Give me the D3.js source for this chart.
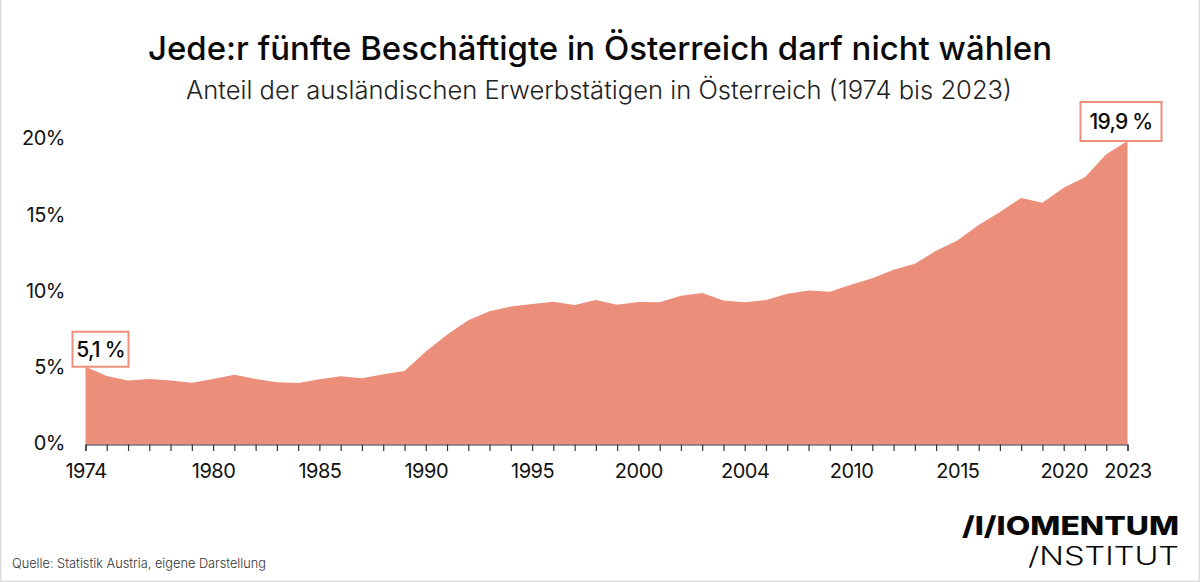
<!DOCTYPE html>
<html>
<head>
<meta charset="utf-8">
<script src="https://cdn.jsdelivr.net/npm/d3@7"></script>
<style>
html, body { margin: 0; padding: 0; background: #fff; }
svg { display: block; font-family: "Inter", "Lato", sans-serif; }
</style>
</head>
<body>
<div id="svg-container"></div>
<script>
var width = 1200;
var height = 582;

var titleText = "Jede:r fünfte Beschäftigte in Österreich darf nicht wählen";
var subtitleText = "Anteil der ausländischen Erwerbstätigen in Österreich (1974 bis 2023)";
var sourceText = "Quelle: Statistik Austria, eigene Darstellung";

var years = [1974, 1975, 1976, 1977, 1978, 1979, 1980, 1981, 1982, 1983,
             1984, 1985, 1986, 1987, 1988, 1989, 1990, 1991, 1992, 1993,
             1994, 1995, 1996, 1997, 1998, 1999, 2000, 2001, 2002, 2003,
             2004, 2005, 2006, 2007, 2008, 2009, 2010, 2011, 2012, 2013,
             2014, 2015, 2016, 2017, 2018, 2019, 2020, 2021, 2022, 2023];
var shares = [5.1, 4.5, 4.2, 4.3, 4.2, 4.05, 4.3, 4.58, 4.3, 4.08,
              4.04, 4.28, 4.47, 4.34, 4.6, 4.82, 6.1, 7.2, 8.14, 8.73,
              9.05, 9.21, 9.36, 9.15, 9.47, 9.17, 9.34, 9.32, 9.76, 9.93,
              9.45, 9.32, 9.47, 9.89, 10.1, 10.02, 10.48, 10.9, 11.46, 11.85,
              12.7, 13.38, 14.4, 15.24, 16.17, 15.85, 16.83, 17.53, 19.04, 19.9];

// im Original steht bei 2005 die Beschriftung "2004"
var labelYears = [1974, 1980, 1985, 1990, 1995, 2000, 2005, 2010, 2015, 2020, 2023];
var labelTexts = ["1974", "1980", "1985", "1990", "1995", "2000", "2004", "2010", "2015", "2020", "2023"];
var yTicks = [0, 5, 10, 15, 20];

var callouts = [
  {year: 1974, text: "5,1 %"},
  {year: 2023, text: "19,9 %"}
];

var areaColor = "#ec8f7a";

var svg = d3.select("#svg-container")
  .append("svg")
  .attr("width", width)
  .attr("height", height);

svg.append("rect")
  .attr("x", 0.5).attr("y", -2)
  .attr("width", width - 1).attr("height", height + 1.5)
  .attr("fill", "#fff")
  .attr("stroke", "#dcdcdc")
  .attr("stroke-width", 2);

var xScale = d3.scaleLinear().domain([1974, 2023]).range([85.5, 1127.5]);
var yScale = d3.scaleLinear().domain([0, 20]).range([444.5, 139.5]);

// Fläche
var area = d3.area()
  .x(function(d, i) { return xScale(years[i]); })
  .y0(yScale(0))
  .y1(function(d) { return yScale(d); });

svg.append("path")
  .datum(shares)
  .attr("d", area)
  .attr("fill", areaColor);

// X-Achse
var xAxis = d3.axisBottom(xScale)
  .tickValues(years)
  .tickSize(6.5)
  .tickPadding(13)
  .tickFormat(function(d) {
    var idx = labelYears.indexOf(d);
    return idx >= 0 ? labelTexts[idx] : "";
  });

var xG = svg.append("g")
  .attr("transform", "translate(0," + yScale(0) + ")")
  .call(xAxis);
xG.select(".domain").attr("stroke", "#333").attr("stroke-width", 1.2);
xG.selectAll(".tick line").attr("stroke", "#333").attr("stroke-width", 1.2);
xG.selectAll(".tick text")
  .attr("fill", "#111")
  .style("font-size", "20px")
  .style("letter-spacing", "-0.5px")
  .style("font-family", "Inter, Lato, sans-serif");

// Y-Achse
var yAxis = d3.axisLeft(yScale)
  .tickValues(yTicks)
  .tickSize(0)
  .tickPadding(0)
  .tickFormat(function(d) { return d + "%"; });

var yG = svg.append("g")
  .attr("transform", "translate(65,-1)")
  .call(yAxis);
yG.select(".domain").remove();
yG.selectAll(".tick text")
  .attr("fill", "#111")
  .style("font-size", "20px")
  .style("letter-spacing", "-0.5px")
  .style("font-family", "Inter, Lato, sans-serif");

// Titel
svg.append("text")
  .attr("x", 600).attr("y", 60)
  .attr("text-anchor", "middle")
  .attr("fill", "#0a0a0a")
  .attr("font-size", 33)
  .attr("font-weight", 500)
  .attr("textLength", 904)
  .attr("lengthAdjust", "spacingAndGlyphs")
  .text(titleText);

svg.append("text")
  .attr("x", 599).attr("y", 99)
  .attr("text-anchor", "middle")
  .attr("fill", "#222")
  .attr("font-size", 25)
  .attr("font-weight", 300)
  .attr("textLength", 826)
  .attr("lengthAdjust", "spacingAndGlyphs")
  .text(subtitleText);

// Wert-Boxen
var boxSizes = {1974: {w: 56, h: 35, dx: -13}, 2023: {w: 81, h: 39, dx: -47}};
callouts.forEach(function(c) {
  var v = shares[years.indexOf(c.year)];
  var b = boxSizes[c.year];
  var bx = xScale(c.year) + b.dx;
  var by = yScale(v) - b.h;
  svg.append("rect")
    .attr("x", bx).attr("y", by)
    .attr("width", b.w).attr("height", b.h)
    .attr("fill", "#fff")
    .attr("stroke", areaColor)
    .attr("stroke-width", 2);
  svg.append("text")
    .attr("x", bx + b.w / 2).attr("y", by + b.h / 2 + 7.5)
    .attr("text-anchor", "middle")
    .attr("fill", "#0a0a0a")
    .attr("font-size", 21)
    .attr("font-weight", 500)
    .attr("letter-spacing", -0.7)
    .text(c.text);
});

// Quelle
svg.append("text")
  .attr("x", 12).attr("y", 568)
  .attr("fill", "#333")
  .attr("font-size", 13)
  .attr("font-weight", 300)
  .attr("textLength", 254)
  .attr("lengthAdjust", "spacingAndGlyphs")
  .text(sourceText);

// Logo
svg.append("text")
  .attr("x", 1179).attr("y", 535)
  .attr("text-anchor", "end")
  .attr("fill", "#0a0a0a")
  .attr("font-size", 26)
  .attr("font-weight", 800)
  .attr("textLength", 217)
  .attr("lengthAdjust", "spacingAndGlyphs")
  .text("/I/IOMENTUM");

svg.append("text")
  .attr("x", 1179).attr("y", 565)
  .attr("text-anchor", "end")
  .attr("fill", "#0a0a0a")
  .attr("font-size", 25)
  .attr("font-weight", 300)
  .attr("textLength", 151)
  .attr("lengthAdjust", "spacingAndGlyphs")
  .text("/NSTITUT");
</script>
</body>
</html>
